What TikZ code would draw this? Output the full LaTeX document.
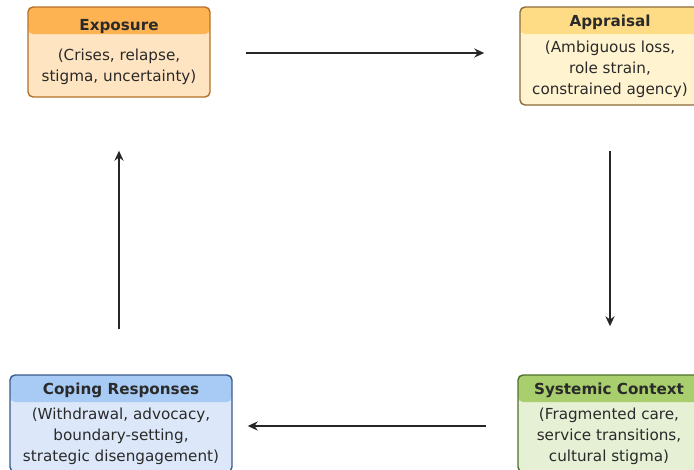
\documentclass[tikz,border=0pt]{standalone}
\usepackage{fontspec}
\setmainfont{DejaVu Sans}
\usepackage{xcolor}
\usetikzlibrary{arrows.meta,positioning,calc}

\definecolor{expohead}{HTML}{FDB352}
\definecolor{expobody}{HTML}{FEE4C0}
\definecolor{expoline}{HTML}{B4702A}
\definecolor{apprhead}{HTML}{FEDC85}
\definecolor{apprbody}{HTML}{FFF3D0}
\definecolor{apprline}{HTML}{8C6A3A}
\definecolor{copehead}{HTML}{A8CBF5}
\definecolor{copebody}{HTML}{DCE8FA}
\definecolor{copeline}{HTML}{3A5A8A}
\definecolor{systhead}{HTML}{A9CE6E}
\definecolor{systbody}{HTML}{E5F0D5}
\definecolor{systline}{HTML}{4E6E2A}
\definecolor{inktext}{HTML}{2A2A2A}

\begin{document}
\begin{tikzpicture}[
  x=1pt, y=-1pt,
  stage/.style n args={3}{draw=#3, fill=#2, line width=1.4pt, rounded corners=5pt,
                align=center, inner sep=0pt, text=inktext,
                font=\fontsize{15.2}{21}\selectfont,
                path picture={\fill[#1] (path picture bounding box.north west)
                  rectangle ([yshift=-27pt]path picture bounding box.north east);}},
  flow/.style={-{Stealth[length=10pt,width=9pt]}, line width=1.6pt, draw=black!85}
]
\useasboundingbox (0,0) rectangle (694,469);

% Exposure
\node[stage={expohead}{expobody}{expoline}, minimum width=182pt, minimum height=90pt] (expo) at (119,52)
  {\textbf{Exposure}\\[9pt]
   (Crises, relapse,\\ stigma, uncertainty)};

% Appraisal
\node[stage={apprhead}{apprbody}{apprline}, minimum width=180pt, minimum height=98pt] (appr) at (610,56)
  {\textbf{Appraisal}\\[5pt]
   (Ambiguous loss,\\ role strain,\\ constrained agency)};

% Systemic context
\node[stage={systhead}{systbody}{systline}, minimum width=182pt, minimum height=97pt] (syst) at (609,423.5)
  {\textbf{Systemic Context}\\[4pt]
   (Fragmented care,\\ service transitions,\\ cultural stigma)};

% Coping responses
\node[stage={copehead}{copebody}{copeline}, minimum width=222pt, minimum height=97pt] (cope) at (121,423.5)
  {\textbf{Coping Responses}\\[4pt]
   (Withdrawal, advocacy,\\ boundary-setting,\\ strategic disengagement)};

% Cycle
\draw[flow] ([xshift=35pt]expo.east |- 0,53) -- ([xshift=-35pt]appr.west |- 0,53);
\draw[flow] ([yshift=-45pt]appr.south) -- ([yshift=48pt]syst.north -| appr.south);
\draw[flow] ([xshift=-31pt]syst.west |- 0,426) -- ([xshift=15pt]cope.east |- 0,426);
\draw[flow] ([yshift=45pt]cope.north -| expo.south) -- ([yshift=-53pt]expo.south);

\end{tikzpicture}
\end{document}
